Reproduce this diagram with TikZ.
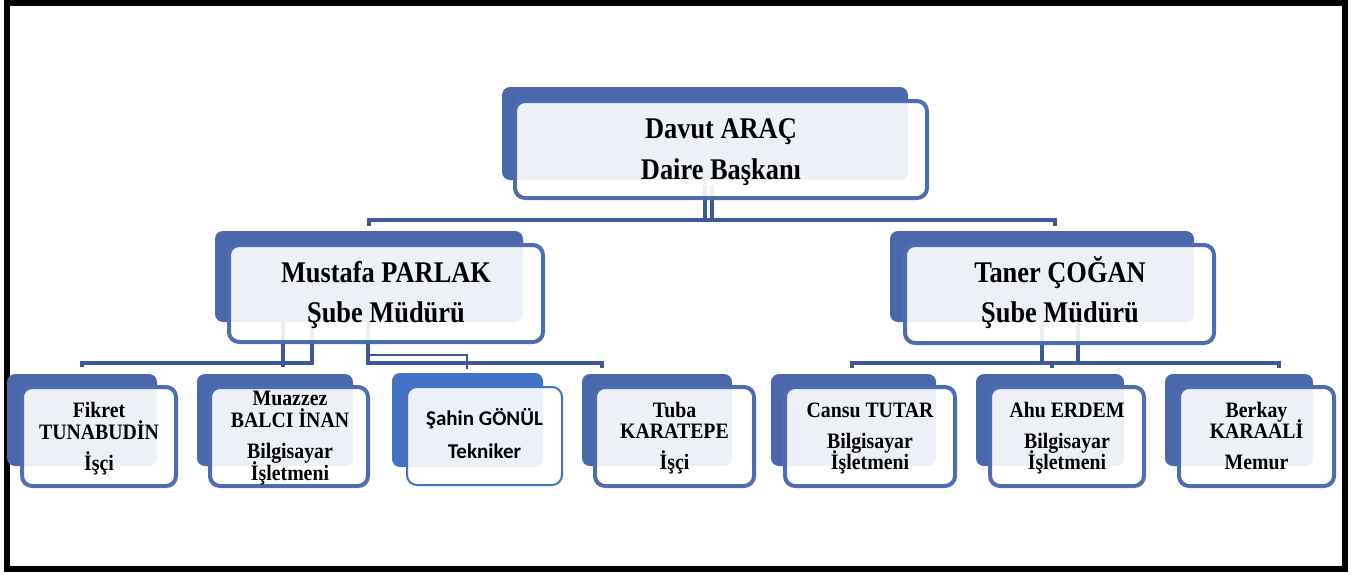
\documentclass[tikz,border=0pt]{standalone}
\usepackage{fontspec}
\setmainfont{Liberation Serif}
\newfontfamily\bigf{Liberation Serif}[FakeStretch=0.88]
\newfontfamily\smf{Liberation Serif}[FakeStretch=0.9]
\newfontfamily\calf{Carlito}
\definecolor{backblue}{HTML}{4A67AC}
\definecolor{bordblue}{HTML}{4E6CB0}
\definecolor{connblue}{HTML}{3F5998}
\definecolor{sahinblue}{HTML}{4472C4}
\tikzset{
  backbox/.style={fill=backblue, draw=none, rounded corners=8pt, inner sep=0pt, outer sep=0pt, minimum width=#1},
  frontbox/.style={draw=bordblue, line width=4pt, fill=white, fill opacity=0.9, draw opacity=1, rounded corners=10pt, inner sep=0pt, outer sep=0pt, minimum width=#1},
  conn/.style={draw=connblue, line width=4pt},
  thinconn/.style={draw=connblue, line width=2.5pt},
  bigt/.style={anchor=base, inner sep=0pt, outer sep=0pt, font=\bigf\bfseries\fontsize{30}{36}\selectfont},
  smt/.style={anchor=base, inner sep=0pt, outer sep=0pt, font=\smf\bfseries\fontsize{22}{26}\selectfont},
  calt/.style={anchor=base, inner sep=0pt, outer sep=0pt, font=\calf\bfseries\fontsize{21}{25}\selectfont},
}
\begin{document}
\begin{tikzpicture}[x=1pt,y=-1pt]
\useasboundingbox (0,0) rectangle (1370,574);
% frame
\draw[line width=6pt, black] (7,3) rectangle (1345,569);

% ---------- connectors ----------
% top level
\coordinate (d1a) at (705,185); \coordinate (d1b) at (705,220);
\coordinate (d2a) at (712,185); \coordinate (d2b) at (712,220);
\coordinate (busL) at (367,220); \coordinate (busR) at (1057,220);
\coordinate (tickL) at (369,226); \coordinate (tickR) at (1055,226);
\draw[conn] (d1a) -- (d1b);
\draw[conn] (d2a) -- (d2b);
\draw[conn] (busL) -- (busR);
\draw[conn] (369,220) -- (tickL);
\draw[conn] (1055,220) -- (tickR);

% Mustafa
\coordinate (m1a) at (283,322); \coordinate (m1b) at (283,367);
\coordinate (m2a) at (312,322); \coordinate (m2b) at (312,363);
\coordinate (mL) at (80,363); \coordinate (mLt) at (82,367);
\draw[conn] (m1a) -- (m1b);
\draw[conn] (m2a) -- (m2b) -- (mL);
\draw[conn] (82,363) -- (mLt);
\coordinate (m3a) at (368,322); \coordinate (m3b) at (368,363);
\coordinate (m3c) at (602,363); \coordinate (m3d) at (602,368);
\draw[conn] (m3a) -- (m3b) -- (m3c) -- (m3d);
\coordinate (m4a) at (368,355); \coordinate (m4b) at (467,355); \coordinate (m4c) at (467,369);
\draw[thinconn] (m4a) -- (m4b) -- (m4c);

% Taner
\coordinate (t1a) at (1042,322); \coordinate (t1b) at (1042,363);
\coordinate (t2a) at (1078,322); \coordinate (t2b) at (1078,363);
\coordinate (tL) at (850,363); \coordinate (tR) at (1281,363);
\draw[conn] (t1a) -- (t1b);
\draw[conn] (t2a) -- (t2b);
\draw[conn] (tL) -- (tR);
\draw[conn] (852,363) -- (852,368);
\draw[conn] (1052,363) -- (1052,368);
\draw[conn] (1279,363) -- (1279,368);

% ---------- back boxes ----------
\node[backbox=406pt, minimum height=93pt] (davutB) at (705,133.5) {};
\node[backbox=308pt, minimum height=91pt] (mustafaB) at (369,276.5) {};
\node[backbox=304pt, minimum height=91pt] (tanerB) at (1042,276.5) {};
\node[backbox=150pt, minimum height=92pt] (fikretB) at (82,420) {};
\node[backbox=156pt, minimum height=92pt] (muazzezB) at (275,420) {};
\node[backbox=151pt, minimum height=94pt, fill=sahinblue] (sahinB) at (467.5,420) {};
\node[backbox=150pt, minimum height=92pt] (tubaB) at (657,420) {};
\node[backbox=165pt, minimum height=92pt] (cansuB) at (853.5,420) {};
\node[backbox=148pt, minimum height=92pt] (ahuB) at (1050,420) {};
\node[backbox=148pt, minimum height=92pt] (berkayB) at (1239,420) {};

% ---------- front boxes ----------
\node[frontbox=412pt, minimum height=97pt] (davut) at (721,149.5) {};
\node[frontbox=314pt, minimum height=97pt] (mustafa) at (386,293.5) {};
\node[frontbox=309pt, minimum height=98pt] (taner) at (1059.5,294) {};
\node[frontbox=154pt, minimum height=99pt] (fikret) at (99,436.5) {};
\node[frontbox=158pt, minimum height=99pt] (muazzez) at (289,436.5) {};
\node[frontbox=155pt, minimum height=98pt, draw=sahinblue, line width=2pt] (sahin) at (484.5,436) {};
\node[frontbox=159pt, minimum height=99pt] (tuba) at (674.5,436.5) {};
\node[frontbox=170pt, minimum height=99pt] (cansu) at (870,436.5) {};
\node[frontbox=154pt, minimum height=99pt] (ahu) at (1067,436.5) {};
\node[frontbox=155pt, minimum height=99pt] (berkay) at (1256.5,436.5) {};

% ---------- texts ----------
\node[bigt] (davut1) at (721,138) {Davut ARAÇ};
\node[bigt] (davut2) at (721,179) {Daire Başkanı};
\node[bigt] (mustafa1) at (386,282) {Mustafa PARLAK};
\node[bigt] (mustafa2) at (386,322) {Şube Müdürü};
\node[bigt] (taner1) at (1060,282) {Taner ÇOĞAN};
\node[bigt] (taner2) at (1060,322) {Şube Müdürü};

\node[smt] (fikret1) at (99,417) {Fikret};
\node[smt] (fikret2) at (99,439) {TUNABUDİN};
\node[smt] (fikret3) at (99,470) {İşçi};

\node[smt] (muazzez1) at (290,405) {Muazzez};
\node[smt] (muazzez2) at (290,427) {BALCI İNAN};
\node[smt] (muazzez3) at (290,458) {Bilgisayar};
\node[smt] (muazzez4) at (290,480) {İşletmeni};

\node[calt] (sahin1) at (484.5,425) {Şahin GÖNÜL};
\node[calt] (sahin2) at (484.5,458) {Tekniker};

\node[smt] (tuba1) at (674.5,417) {Tuba};
\node[smt] (tuba2) at (674.5,438) {KARATEPE};
\node[smt] (tuba3) at (674.5,469) {İşçi};

\node[smt] (cansu1) at (870,417) {Cansu TUTAR};
\node[smt] (cansu2) at (870,448) {Bilgisayar};
\node[smt] (cansu3) at (870,469) {İşletmeni};

\node[smt] (ahu1) at (1067,417) {Ahu ERDEM};
\node[smt] (ahu2) at (1067,448) {Bilgisayar};
\node[smt] (ahu3) at (1067,469) {İşletmeni};

\node[smt] (berkay1) at (1256.5,417) {Berkay};
\node[smt] (berkay2) at (1256.5,438) {KARAALİ};
\node[smt] (berkay3) at (1256.5,469) {Memur};
\end{tikzpicture}
\end{document}
